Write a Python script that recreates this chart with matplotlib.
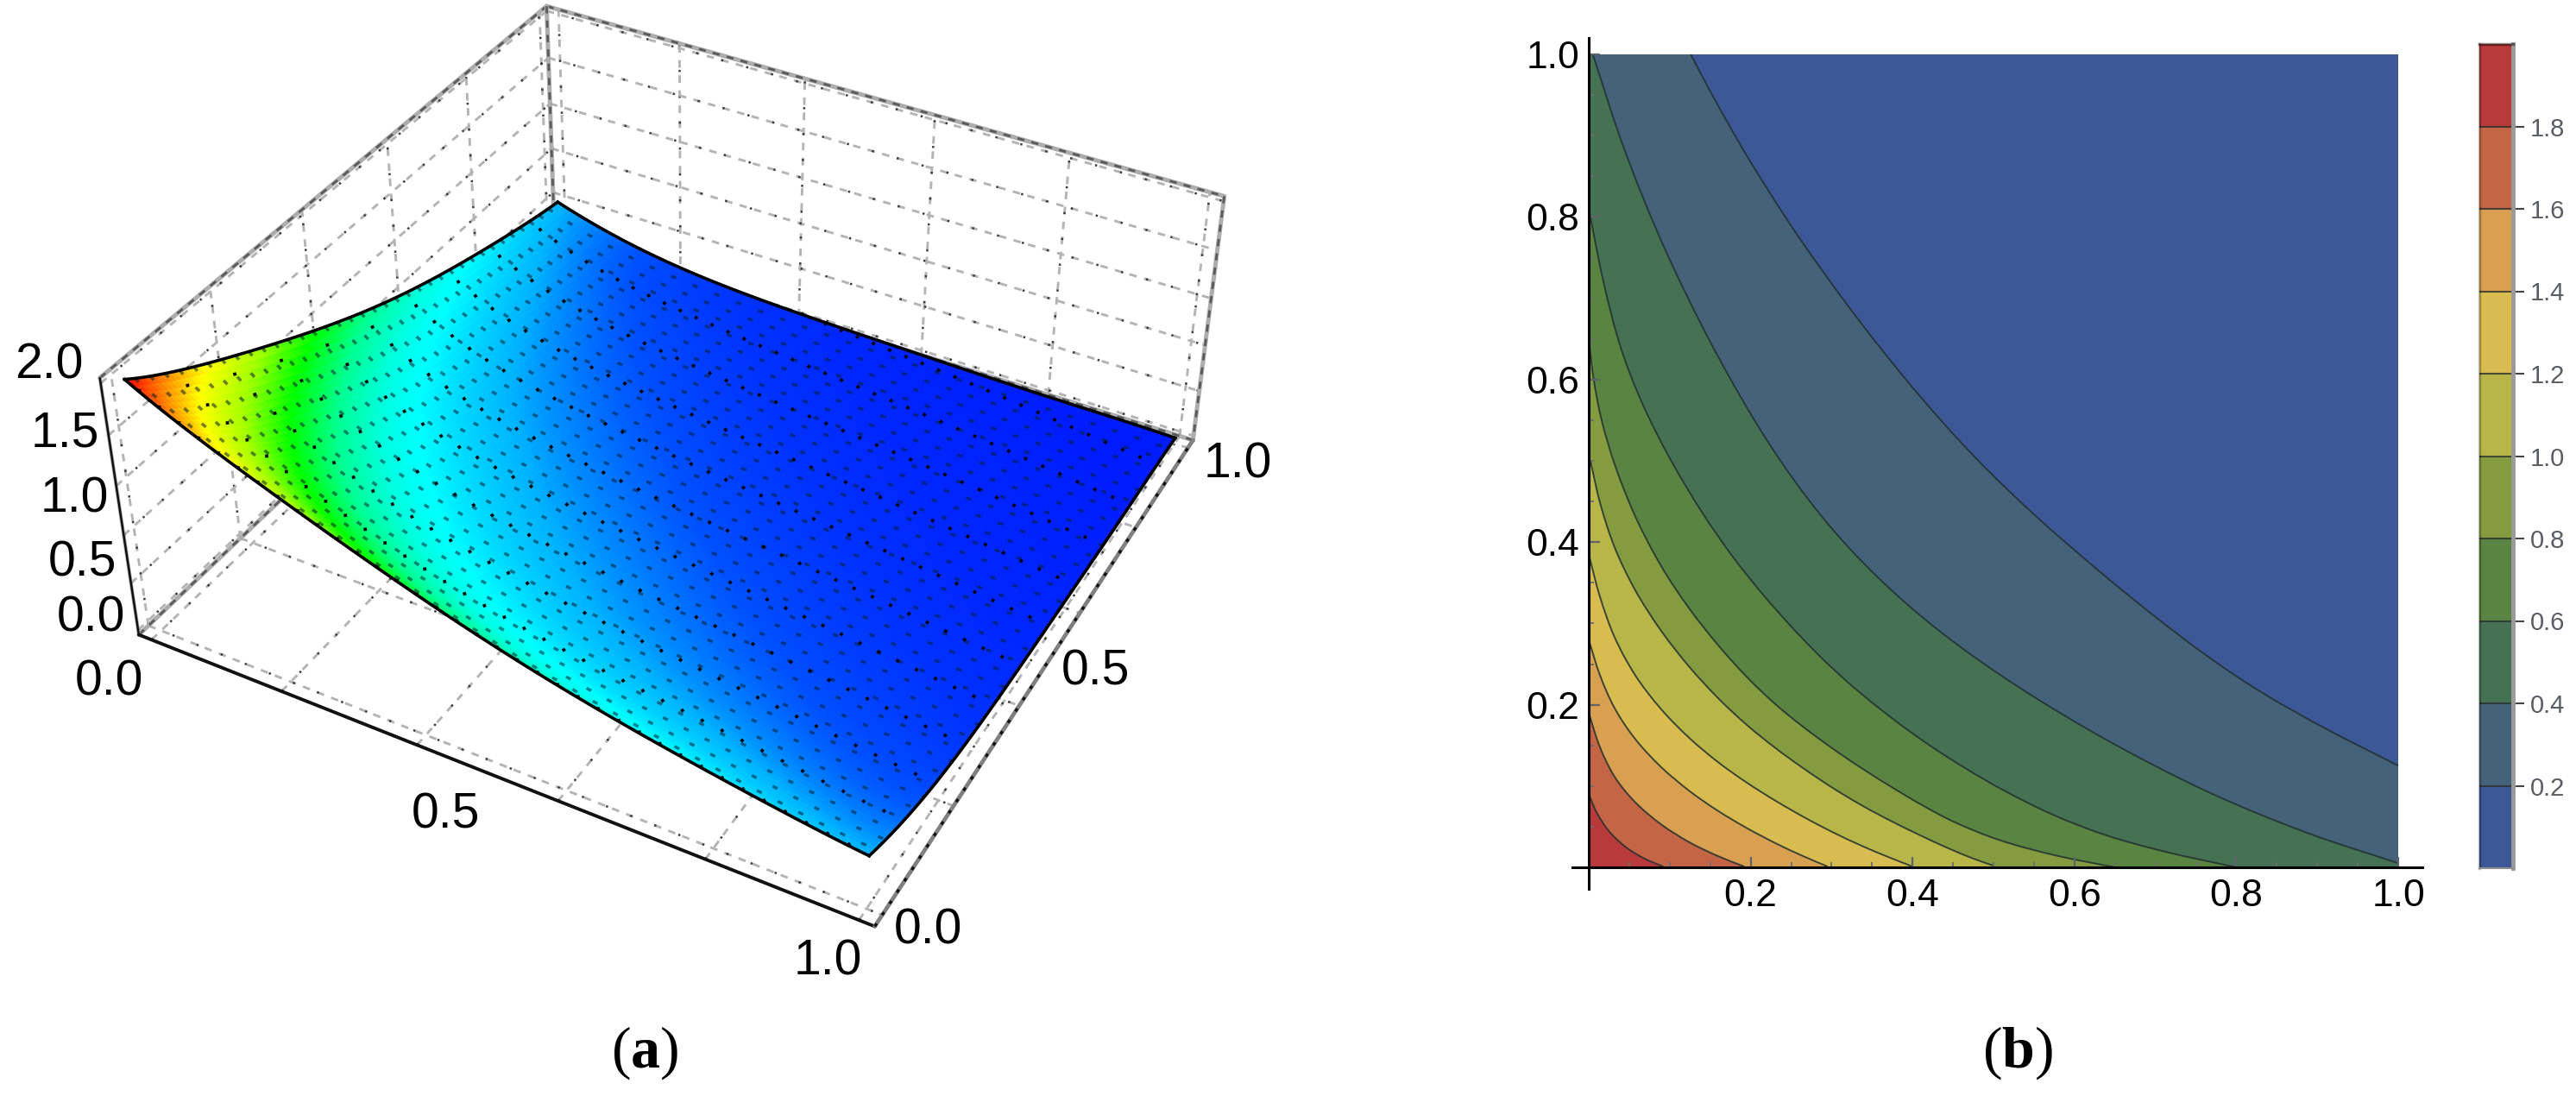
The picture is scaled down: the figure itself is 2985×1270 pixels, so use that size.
#!/usr/bin/env python3
"""Two panels: (a) 3D surface inside a dotted box, (b) contour map of the same surface."""
import numpy as np
import matplotlib
matplotlib.use("Agg")
import matplotlib.pyplot as plt
from matplotlib.colors import LinearSegmentedColormap
from matplotlib.path import Path
from matplotlib.patches import PathPatch

W, H = 2985, 1270
plt.rcParams.update({"font.family": ["Liberation Sans", "DejaVu Sans"], "mathtext.fontset": "custom",
                     "mathtext.rm": "Liberation Serif", "mathtext.bf": "Liberation Serif:bold"})

# ── DATA ──────────────────────────────────────────────────────────────────────
GRID = [0.0, 0.1, 0.2, 0.3, 0.4, 0.5, 0.6, 0.7, 0.8, 0.9, 1.0]
# surface height in panel a, rows are y, columns are x
Z_TABLE = [
    [2.00, 1.74, 1.52, 1.32, 1.12, 0.95, 0.81, 0.68, 0.57, 0.48, 0.40],
    [1.74, 1.38, 1.12, 0.92, 0.73, 0.60, 0.50, 0.42, 0.34, 0.29, 0.25],
    [1.52, 1.12, 0.86, 0.66, 0.52, 0.42, 0.35, 0.29, 0.23, 0.18, 0.15],
    [1.32, 0.92, 0.66, 0.52, 0.40, 0.33, 0.26, 0.20, 0.16, 0.13, 0.10],
    [1.12, 0.73, 0.52, 0.40, 0.32, 0.25, 0.20, 0.15, 0.12, 0.09, 0.07],
    [0.95, 0.60, 0.42, 0.33, 0.25, 0.19, 0.15, 0.11, 0.08, 0.06, 0.05],
    [0.81, 0.50, 0.35, 0.26, 0.20, 0.15, 0.11, 0.08, 0.06, 0.05, 0.04],
    [0.68, 0.42, 0.29, 0.20, 0.15, 0.11, 0.08, 0.06, 0.05, 0.04, 0.03],
    [0.57, 0.34, 0.23, 0.16, 0.12, 0.08, 0.06, 0.05, 0.04, 0.03, 0.02],
    [0.48, 0.29, 0.18, 0.13, 0.09, 0.06, 0.05, 0.04, 0.03, 0.02, 0.02],
    [0.40, 0.25, 0.15, 0.10, 0.07, 0.05, 0.04, 0.03, 0.02, 0.02, 0.01],
]
RAINBOW_Z = [0.0, 0.2, 0.4, 0.65, 0.78, 0.98, 1.2, 1.42, 1.65, 1.82, 2.0]
RAINBOW_C = ["#0018ff", "#0050ff", "#00b4ff", "#00ffff", "#00ffe0", "#00ff90", "#00ff00", "#a0ff00", "#ffff00", "#ff9000", "#ff1000"]

LEVELS = [0.2, 0.4, 0.6, 0.8, 1.0, 1.2, 1.4, 1.6, 1.8]
BAND_COLORS = ["#3c5896", "#44627a", "#467254", "#5a8441", "#849c3f", "#b8b649", "#d9bc4f", "#d8a050", "#c46545", "#b83a3a"]
C02_X = [.126, .153, .191, .255, .319, .408, .478, .542, .638, .702, .765, .829, .893, 1.0]
C02_Y = [1.0, .946, .879, .774, .688, .576, .496, .439, .356, .305, .257, .212, .177, .125]
C04_X = [.005, .034, .085, .152, .226, .284, .355, .426, .51, .638, .765, .893, 1.0]
C04_Y = [1.0, .893, .765, .638, .499, .428, .354, .287, .232, .152, .085, .034, .005]
C06_X = [0.0, .018, .037, .059, .099, .142, .178, .213, .249, .284, .32, .355, .391, .426, .462, .501, .574, .638, .702, .8]
C06_Y = [.81, .702, .638, .574, .501, .428, .379, .336, .297, .258, .226, .198, .17, .145, .124, .099, .059, .037, .018, 0.0]
C08_X = [0.0, .004, .012, .03, .053, .089, .124, .16, .195, .231, .267, .302, .338, .373, .409, .444, .501, .58, .65]
C08_Y = [.65, .6, .55, .499, .428, .364, .315, .272, .23, .198, .17, .145, .12, .099, .078, .057, .028, .012, 0.0]
C10_X = [.002, .011, .028, .053, .089, .124, .16, .195, .231, .267, .302, .338, .373, .409, .444, .48, .5]
C10_Y = [.5, .446, .393, .34, .287, .244, .205, .173, .145, .12, .096, .074, .057, .039, .023, .007, .002]
C12_X = [0.0, .011, .028, .053, .089, .124, .16, .195, .231, .267, .302, .338, .373, .4]
C12_Y = [.385, .333, .28, .234, .191, .156, .127, .103, .081, .06, .042, .025, .011, .001]
C14_X = [0.0, .011, .028, .053, .089, .124, .16, .195, .231, .267, .295]
C14_Y = [.28, .234, .195, .156, .12, .092, .067, .048, .028, .012, .001]
C16_X = [0.0, .011, .028, .053, .089, .124, .16, .192]
C16_Y = [.19, .142, .11, .078, .05, .028, .012, .001]
C18_X = [0.0, .007, .021, .046, .071, .092]
C18_Y = [.09, .067, .042, .021, .007, .001]
CURVES = [(C02_X, C02_Y), (C04_X, C04_Y), (C06_X, C06_Y), (C08_X, C08_Y), (C10_X, C10_Y),
          (C12_X, C12_Y), (C14_X, C14_Y), (C16_X, C16_Y), (C18_X, C18_Y)]

BOX_XY = [-0.02, 1.02]
BOX_Z = [-0.04, 2.04]
GRID_XY = [0.0, 0.2, 0.4, 0.6, 0.8, 1.0]
GRID_Z = [0.0, 0.4, 0.8, 1.2, 1.6, 2.0]

# where the box and surface corners sit in the picture, pixels from top left
CORNERS_3D = [(-.02, -.02, -.04), (1.02, -.02, -.04), (1.02, 1.02, -.04), (-.02, 1.02, -.04),
              (-.02, -.02, 2.04), (-.02, 1.02, 2.04), (1.02, 1.02, 2.04),
              (0, 0, 2.0), (0, 1, 0.4), (1, 1, 0.01), (1, 0, 0.4)]
CORNERS_PX = [(161, 742), (1009, 1074), (1382, 512), (645, 258),
              (112, 435), (631, 14), (1421, 221),
              (147, 439), (647, 245), (1359, 515), (1013, 987)]


def px(x, y):
    return x / W, 1 - y / H


def curve_verts(cx, cy):
    """Bezier pieces along the read points; reading noise is evened out first."""
    pts = np.column_stack([cx, cy]).astype(float)
    for _ in range(2):
        pts[1:-1] = 0.25 * pts[:-2] + 0.5 * pts[1:-1] + 0.25 * pts[2:]
    tan = np.gradient(pts, axis=0)
    verts, codes = [pts[0]], [Path.MOVETO]
    for i in range(len(pts) - 1):
        verts += [pts[i] + tan[i] / 3, pts[i + 1] - tan[i + 1] / 3, pts[i + 1]]
        codes += [Path.CURVE4] * 3
    return verts, codes


fig = plt.figure(figsize=(W / 100, H / 100), dpi=100, facecolor="white")

# ── PANEL A ───────────────────────────────────────────────────────────────────
side = 1500
l, b = px(0, 1385)
ax3 = fig.add_axes([l, b, side / W, side / H], projection="3d", computed_zorder=False)
ax3.set_axis_off()
ax3.patch.set_visible(False)
ax3.set_proj_type("ortho")

# display mesh for the gradient: smooth fit through the table in both directions
grid = np.array(GRID)
table = np.array(Z_TABLE)
fine = np.linspace(0, 1, 111)
zf = np.array([np.polyval(np.polyfit(grid, row, 6), fine) for row in table])
zf = np.array([np.polyval(np.polyfit(grid, col, 6), fine) for col in zf.T]).T
zf = np.clip(zf, 0, 2)
xf, yf = np.meshgrid(fine, fine)
rainbow = LinearSegmentedColormap.from_list("rb", [(z / 2.0, c) for z, c in zip(RAINBOW_Z, RAINBOW_C)], N=512)


def edge(p, q, color, lw, ls="-", zo=1):
    ax3.plot([p[0], q[0]], [p[1], q[1]], [p[2], q[2]], color=color, lw=lw, ls=ls, zorder=zo, solid_capstyle="round")


def dotted(p, q):
    edge(p, q, "#b4b4b4", 2.1, (0, (3, 3)))
    edge(p, q, "#3c3c3c", 1.8, (0, (1, 11)))


x0, x1 = BOX_XY
z0, z1 = BOX_Z
# face grids: floor, left wall, back wall
for g in GRID_XY:
    dotted((g, x0, z0), (g, x1, z0))
    dotted((x0, g, z0), (x1, g, z0))
    dotted((x0, g, z0), (x0, g, z1))
    dotted((g, x1, z0), (g, x1, z1))
for g in GRID_Z:
    dotted((x0, x0, g), (x0, x1, g))
    dotted((x0, x1, g), (x1, x1, g))

# box edges
GREY = "#adadad"
for p, q in [((x0, x0, z1), (x0, x1, z1)), ((x0, x1, z1), (x1, x1, z1)), ((x1, x1, z1), (x1, x1, z0)),
             ((x0, x1, z1), (x0, x1, z0)), ((x0, x0, z0), (x0, x1, z0)), ((x0, x1, z0), (x1, x1, z0))]:
    edge(p, q, GREY, 3.6)
    edge(p, q, "#5a5a5a", 2.0, (0, (3, 3)))
edge((x0, x0, z1), (x0, x0, z0), GREY, 3.0)
edge((x0, x0, z1), (x0, x0, z0), "#111111", 1.8)
edge((x0, x0, z0), (x1, x0, z0), "#111111", 2.8)
edge((x1, x0, z0), (x1, x1, z0), "#808080", 3.4)
edge((x1, x0, z0), (x1, x1, z0), "#111111", 2.4, (0, (1.2, 3.5)))

ax3.plot_surface(xf, yf, zf, facecolors=rainbow(zf / 2.0), shade=False, rstride=1, cstride=1,
                 linewidth=0.5, antialiased=False, zorder=3)

# the speckled mesh on the surface
for i in range(2, 110, 3):
    ax3.plot(xf[:, i], yf[:, i], zf[:, i], color="#000000", lw=2.7, ls=(0, (1, 14)), alpha=0.95, zorder=4)
    ax3.plot(xf[i, :], yf[i, :], zf[i, :], color="#00202e", lw=2.5, ls=(0, (1.8, 6)), alpha=0.55, zorder=4)

# surface outline
for xs, ys, zs in [(xf[0], yf[0], zf[0]), (xf[-1], yf[-1], zf[-1]),
                   (xf[:, 0], yf[:, 0], zf[:, 0]), (xf[:, -1], yf[:, -1], zf[:, -1])]:
    ax3.plot(xs, ys, zs, color="#000000", lw=2.6, zorder=5)

# camera: fitted so the box lands on its corners in the picture
ax3.apply_aspect()
to_view = ax3.transData.inverted()
rows = []
for (X, Y, Z), (u, v) in zip(CORNERS_3D, CORNERS_PX):
    u, v = to_view.transform((u, H - v))
    rows.append([X, Y, Z, 1, 0, 0, 0, 0, -u * X, -u * Y, -u * Z, -u])
    rows.append([0, 0, 0, 0, X, Y, Z, 1, -v * X, -v * Y, -v * Z, -v])
cam = np.linalg.svd(np.array(rows))[2][-1].reshape(3, 4)
if cam[2] @ [0.5, 0.5, 1, 1] < 0:
    cam = -cam
depth = np.array([1.0, -1.0, 0.2, 0.0]) * np.linalg.norm(cam[2])
M = np.vstack([cam[0], cam[1], depth, cam[2]])
ax3.get_proj = lambda: M

LAB = 41
for s, (x, y) in zip(["0.0", "0.5", "1.0", "1.5", "2.0"], [(105, 716), (95, 652), (86, 579), (75, 502), (57, 424)]):
    fig.text(*px(x, y), s, fontsize=LAB, ha="center", va="center")
for s, (x, y) in zip(["0.0", "0.5", "1.0"], [(126, 791), (516, 944), (959, 1115)]):
    fig.text(*px(x, y), s, fontsize=LAB, ha="center", va="center")
for s, (x, y) in zip(["0.0", "0.5", "1.0"], [(1075, 1078), (1269, 778), (1434, 539)]):
    fig.text(*px(x, y), s, fontsize=LAB, ha="center", va="center")

# ── PANEL B ───────────────────────────────────────────────────────────────────
xlim = (-0.02, 1.03)
ylim = (-0.027, 1.02)
ox, oy, ux, uy = 1841, 1005, 938, 942
l, b = px(ox + xlim[0] * ux, oy - ylim[0] * uy)
ax = fig.add_axes([l, b, (xlim[1] - xlim[0]) * ux / W, (ylim[1] - ylim[0]) * uy / H])
ax.set_xlim(xlim)
ax.set_ylim(ylim)
ax.patch.set_visible(False)
ax.fill([0, 1, 1, 0], [0, 0, 1, 1], color=BAND_COLORS[0], lw=0, zorder=1)
for (cx, cy), col in zip(CURVES, BAND_COLORS[1:]):
    verts, codes = curve_verts(cx, cy)
    verts = verts + [(cx[-1], 0), (0, 0), (0, cy[0]), verts[0]]
    codes = codes + [Path.LINETO] * 3 + [Path.CLOSEPOLY]
    ax.add_patch(PathPatch(Path(verts, codes), facecolor=col, lw=0, zorder=1))
for cx, cy in CURVES:
    verts, codes = curve_verts(cx, cy)
    ax.add_patch(PathPatch(Path(verts, codes), facecolor="none", edgecolor="#22302f", lw=1.4, alpha=0.85, zorder=1.5))

ax.spines[["top", "right"]].set_visible(False)
for s in ["left", "bottom"]:
    ax.spines[s].set_position(("data", 0))
    ax.spines[s].set_linewidth(2.2)
major = [0.2, 0.4, 0.6, 0.8, 1.0]
minor = [v / 20 for v in range(1, 21) if v % 4]
for axis in (ax.xaxis, ax.yaxis):
    axis.set_ticks(major)
    axis.set_ticklabels(["0.2", "0.4", "0.6", "0.8", "1.0"])
    axis.set_ticks(minor, minor=True)
ax.tick_params(which="major", direction="in", length=9, width=1.6, color="#5f6468", labelsize=32)
ax.tick_params(which="minor", direction="in", length=4.5, width=1.3, color="#6a6f73")
ax.tick_params(axis="x", which="major", pad=9)
ax.tick_params(axis="y", which="major", pad=8)

# colour bar
l, b = px(2873, 1006)
cb = fig.add_axes([l, b, 39 / W, 955 / H])
cb.set_xlim(0, 1)
cb.set_ylim(0, 2)
edges = [0.0] + LEVELS + [2.0]
cb.bar([0.5] * 10, np.diff(edges), bottom=edges[:-1], width=1, color=BAND_COLORS)
cb.hlines(LEVELS, 0, 1, color="#2b2f2f", lw=1.5, alpha=0.8)
cb.set_xticks([])
cb.yaxis.tick_right()
cb.set_yticks(LEVELS)
cb.set_yticklabels([f"{v:.1f}" for v in LEVELS])
cb.tick_params(axis="y", length=9.5, width=1.5, color="#444444", labelsize=21, labelcolor="#5a5d66", pad=5)
cb.spines["right"].set_color("#9a9a9a")
cb.spines["right"].set_linewidth(3.5)
cb.spines["top"].set_color("#00000070")
cb.spines["top"].set_linewidth(2.5)
cb.spines["left"].set_color("#00000040")
cb.spines["left"].set_linewidth(2.5)
cb.spines["bottom"].set_color("#8f8f8f")
cb.spines["bottom"].set_linewidth(1.5)

# panel letters
for s, x in [("a", 747), ("b", 2338)]:
    fig.text(*px(x, 1220), "($\\mathbf{%s}$)" % s, fontsize=49, family=["Liberation Serif"], ha="center", va="center")

fig.savefig("out.png", dpi=100)
